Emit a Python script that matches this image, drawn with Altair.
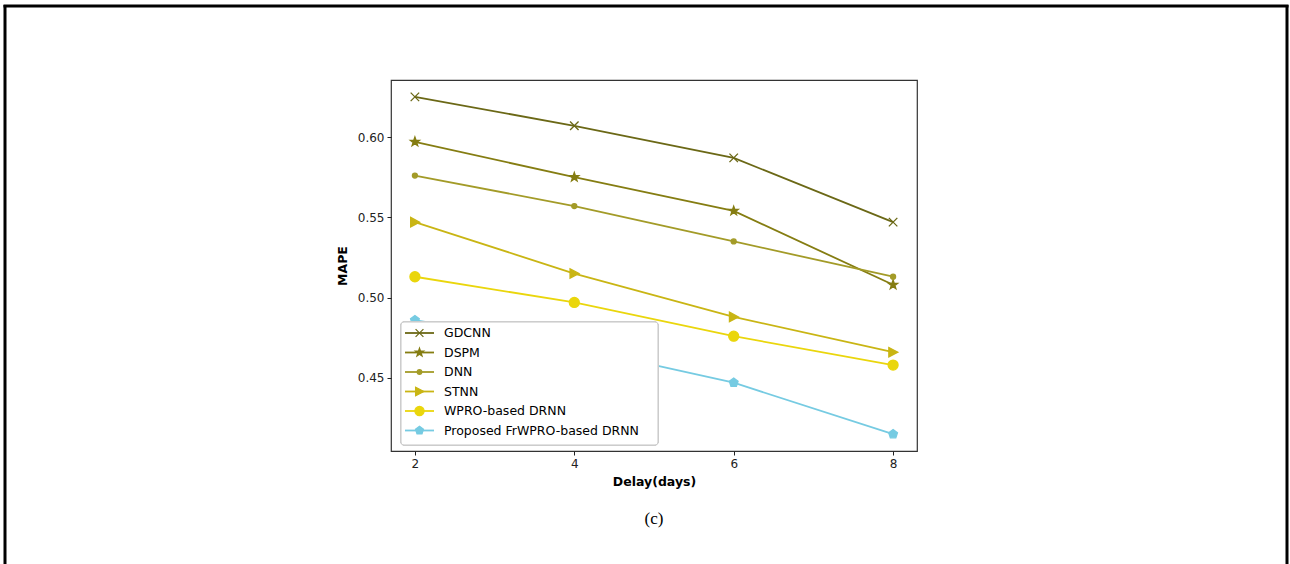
import math
import altair as alt
import pandas as pd

# ---- data ----
delays = [2, 4, 6, 8]
series = ["GDCNN", "DSPM", "DNN", "STNN", "WPRO-based DRNN", "Proposed FrWPRO-based DRNN"]
gdcnn = [0.625, 0.607, 0.587, 0.547]
dspm = [0.597, 0.575, 0.554, 0.508]
dnn = [0.576, 0.557, 0.535, 0.513]
stnn = [0.547, 0.515, 0.488, 0.466]
wpro = [0.513, 0.497, 0.476, 0.458]
proposed = [0.486, 0.469, 0.447, 0.415]
colors = ["#6b6816", "#857d12", "#a39b28", "#c9b514", "#ead60c", "#76cbe2"]
y_ticks = [0.45, 0.50, 0.55, 0.60]
x_ticks = [2, 4, 6, 8]

values = [gdcnn, dspm, dnn, stnn, wpro, proposed]
rows = []
for name, vals in zip(series, values):
    for d, v in zip(delays, vals):
        rows.append({"series": name, "delay": d, "mape": v})
df = pd.DataFrame(rows)
leg_df = pd.DataFrame({"series": series})

# ---- marker shapes (unit square paths) ----
def poly(pts):
    return "M" + "L".join(f"{x:.3f},{y:.3f}" for x, y in pts) + "Z"

def circ(r):
    return f"M{r},0A{r},{r},0,1,1,{-r},0A{r},{r},0,1,1,{r},0Z"

star = poly([((0.95 if k % 2 == 0 else 0.38) * math.cos(-math.pi / 2 + k * math.pi / 5),
              (0.95 if k % 2 == 0 else 0.38) * math.sin(-math.pi / 2 + k * math.pi / 5)) for k in range(10)])
pent = poly([(0.92 * math.cos(-math.pi / 2 + k * 2 * math.pi / 5),
              0.92 * math.sin(-math.pi / 2 + k * 2 * math.pi / 5)) for k in range(5)])
xmark = "M-0.85,-0.85L0.85,0.85M-0.85,0.85L0.85,-0.85"
tri = "M0.95,0L-0.85,0.95L-0.85,-0.95Z"
markers = [xmark, star, circ(0.5), tri, circ(1.0), pent]

vmin = min(min(v) for v in values)
vmax = max(max(v) for v in values)
pad = (vmax - vmin) * 0.05

X = alt.X("delay:Q", scale=alt.Scale(domain=[1.7, 8.3], nice=False, zero=False),
          axis=alt.Axis(values=x_ticks, title="Delay(days)", format="d"))
Y = alt.Y("mape:Q", scale=alt.Scale(domain=[vmin - pad, vmax + pad], nice=False, zero=False),
          axis=alt.Axis(values=y_ticks, title="MAPE", format=".2f"))
color_scale = alt.Scale(domain=series, range=colors)

lines = alt.Chart(df).mark_line(strokeWidth=1.8).encode(
    x=X, y=Y,
    color=alt.Color("series:N", scale=color_scale, legend=None),
    order="delay:Q",
)

point_layers = []
for name, m, c in zip(series, markers, colors):
    point_layers.append(
        alt.Chart(df).transform_filter(alt.datum.series == name)
        .mark_point(shape=m, filled=True, fill=c, stroke=c, strokeWidth=1.3, size=100, opacity=1)
        .encode(x=X, y=Y)
    )

main = alt.layer(lines, *point_layers)

# ---- legend (drawn from the same series list through its own point scale) ----
LY = alt.Y("series:N", scale=alt.Scale(type="point", domain=series, range=[253, 350.5], padding=0),
           axis=None)
leg_box = alt.Chart(leg_df).mark_rect(fill="white", fillOpacity=0.75, stroke="#cccccc",
                                      strokeWidth=1, cornerRadius=3).encode(
    x=alt.value(10), x2=alt.value(267), y=alt.value(242), y2=alt.value(365))
leg_lines = alt.Chart(leg_df).mark_rule(strokeWidth=1.8).encode(
    x=alt.value(14), x2=alt.value(43), y=LY,
    color=alt.Color("series:N", scale=color_scale, legend=None))
leg_marks = []
for name, m, c in zip(series, markers, colors):
    leg_marks.append(
        alt.Chart(leg_df).transform_filter(alt.datum.series == name)
        .mark_point(shape=m, filled=True, fill=c, stroke=c, strokeWidth=1.2, size=85, opacity=1)
        .encode(x=alt.value(28.5), y=LY)
    )
leg_text = alt.Chart(leg_df).mark_text(align="left", baseline="middle", font="DejaVu Sans",
                                       fontSize=12.5, color="black").encode(
    x=alt.value(53), y=LY, text="series:N")
legend = alt.layer(leg_box, leg_lines, *leg_marks, leg_text)

one = pd.DataFrame({"k": [0]})
frame_left = alt.Chart(one).mark_rule(color="black", strokeWidth=3).encode(
    x=alt.value(-386), y=alt.value(-75), y2=alt.value(484))
frame_top = alt.Chart(one).mark_rule(color="black", strokeWidth=3).encode(
    x=alt.value(-387.5), x2=alt.value(897.5), y=alt.value(-74))
frame_right = alt.Chart(one).mark_rule(color="black", strokeWidth=3).encode(
    x=alt.value(896), y=alt.value(-75), y2=alt.value(484))
caption = alt.Chart(one).mark_text(text="(c)", font="Liberation Serif", fontSize=17,
                                  color="black", baseline="middle", align="center").encode(
    x=alt.value(263), y=alt.value(439))
deco = alt.layer(frame_left, frame_top, frame_right, caption)

chart = alt.layer(main, legend, deco).resolve_scale(y="independent").properties(
    width=526, height=371,
    padding={"left": 391, "top": 80, "right": 373, "bottom": 113},
    autosize=alt.AutoSizeParams(type="none"),
    background="white",
).configure_view(
    stroke="#333333", strokeWidth=1.2
).configure_axis(
    domain=False, grid=False, ticks=True, tickSize=4, tickColor="#222222", tickWidth=1,
    labelFont="DejaVu Sans", labelFontSize=12, labelColor="#222222", labelPadding=3,
    titleFont="DejaVu Sans", titleFontSize=12.5, titleFontWeight="bold", titleColor="black",
).configure_axisX(titlePadding=6).configure_axisY(titlePadding=8)

chart.save("out.html", embed_options={"renderer": "svg", "actions": False})
